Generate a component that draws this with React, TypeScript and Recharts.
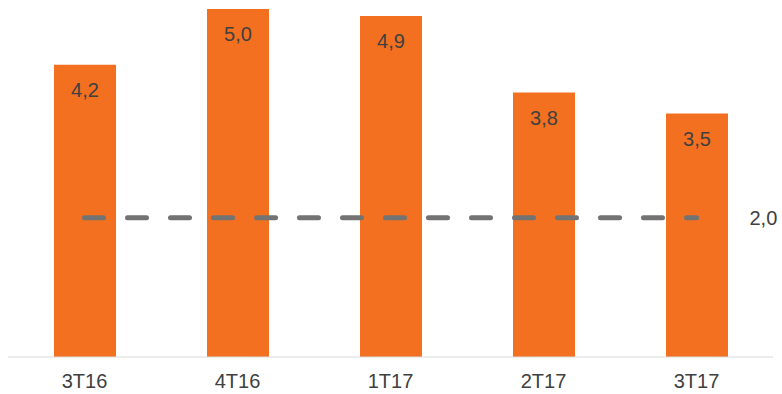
import React from "react";
import { ComposedChart, Bar, Line, XAxis, YAxis, LabelList } from "recharts";

const quarters = ["3T16", "4T16", "1T17", "2T17", "3T17"];
const ratios = [4.2, 5.0, 4.9, 3.8, 3.5];
const minimum = [2.0, 2.0, 2.0, 2.0, 2.0];

const rows = quarters.map((q, i) => ({ q, ratio: ratios[i], minimum: minimum[i] }));

const FONT = "'Liberation Sans', Arial, sans-serif";
const ORANGE = "#F37021";
const TEXT = "#404040";

const fmt = (v: unknown) => Number(v).toFixed(1).replace(".", ",");

// Only the last point of the dashed line gets its value printed, off to the right.
function EndLabel(props: any) {
  const { x, y, index, value } = props;
  if (index !== rows.length - 1) return null;
  return (
    <text x={x + 53} y={y} dy="0.35em" fill={TEXT} fontSize={20} fontFamily={FONT}>
      {fmt(value)}
    </text>
  );
}

export default function App() {
  return (
    <div style={{ width: 782, height: 394 }}>
      <style>{`body{margin:0}`}</style>
      <ComposedChart
        width={782}
        height={394}
        data={rows}
        margin={{ top: 9, right: 9, left: 8, bottom: 0 }}
      >
        <XAxis
          dataKey="q"
          height={37}
          tickLine={false}
          tickSize={0}
          tickMargin={17}
          axisLine={{ stroke: "#d9d9d9", strokeWidth: 1 }}
          tick={{ fontSize: 20, fill: TEXT, fontFamily: FONT }}
        />
        <YAxis hide domain={[0, 5]} />
        <Bar dataKey="ratio" fill={ORANGE} barSize={62} isAnimationActive={false}>
          <LabelList
            dataKey="ratio"
            position="insideTop"
            offset={18}
            formatter={fmt}
            fill={TEXT}
            fontSize={20}
            fontFamily={FONT}
          />
        </Bar>
        <Line
          dataKey="minimum"
          stroke="#737373"
          strokeWidth={5}
          strokeLinecap="round"
          strokeDasharray="19 24"
          dot={false}
          activeDot={false}
          isAnimationActive={false}
        >
          <LabelList dataKey="minimum" content={<EndLabel />} />
        </Line>
      </ComposedChart>
    </div>
  );
}
